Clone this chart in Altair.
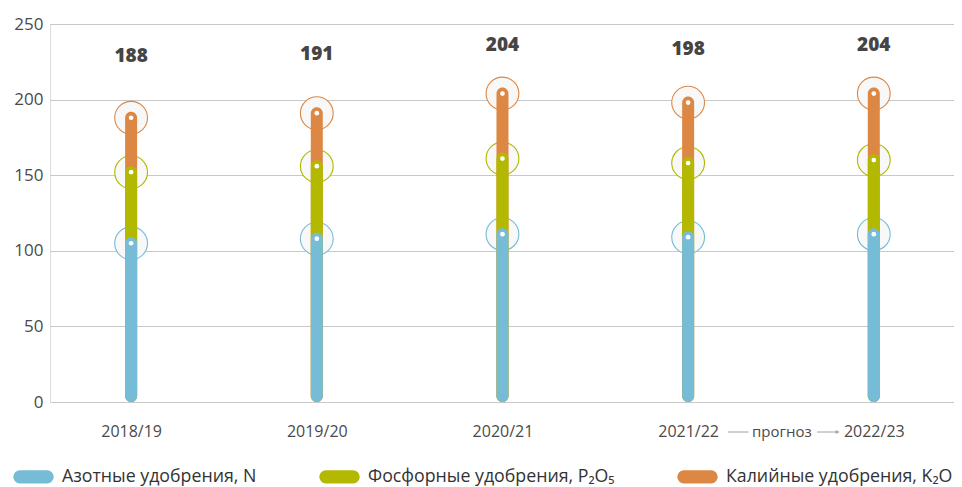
import json
import altair as alt
import pandas as pd

# ---- data -------------------------------------------------------------
years = ["2018/19", "2019/20", "2020/21", "2021/22", "2022/23"]
nitrogen = [105, 108, 111, 109, 111]      # Азотные удобрения, N
phosphorus = [47, 48, 50, 49, 49]         # Фосфорные удобрения, P2O5
potassium = [36, 35, 43, 40, 44]          # Калийные удобрения, K2O
totals = [188, 191, 204, 198, 204]

series_names = ["Азотные удобрения, N", "Фосфорные удобрения, P₂O₅", "Калийные удобрения, K₂O"]
series_colors = ["#77bcd7", "#b2b900", "#dd8744"]

forecast_label = "прогноз"
forecast_text_x = [3.505]
forecast_line_start = [3.215, 3.695]
forecast_line_end = [3.325, 3.80]
forecast_arrow_x = [3.805]

# ---- tables built from the lists -------------------------------------
rows = []
for i, y in enumerate(years):
    cum_n = nitrogen[i]
    cum_np = nitrogen[i] + phosphorus[i]
    cum_npk = cum_np + potassium[i]
    # draw order: orange first, then green, then blue on top
    rows.append({"idx": i, "year": y, "series": series_names[2], "top": cum_npk, "ord": 0})
    rows.append({"idx": i, "year": y, "series": series_names[1], "top": cum_np, "ord": 1})
    rows.append({"idx": i, "year": y, "series": series_names[0], "top": cum_n, "ord": 2})
seg = pd.DataFrame(rows)
tot = pd.DataFrame({"idx": list(range(len(years))), "total": totals})
fc_text = pd.DataFrame({"idx": forecast_text_x, "t": [forecast_label]})
fc_lines = pd.DataFrame({"idx": forecast_line_start, "x2": forecast_line_end})
fc_arrow = pd.DataFrame({"idx": forecast_arrow_x})

label_expr = json.dumps(years) + "[datum.value]"

x_scale = alt.Scale(domain=[-0.41, 4.405], nice=False, zero=False)
y_scale = alt.Scale(domain=[0, 250], nice=False)

x_enc = alt.X(
    "idx:Q", scale=x_scale,
    axis=alt.Axis(values=list(range(len(years))), labelExpr=label_expr, title=None,
                  grid=False, ticks=False, domain=False, labelFontSize=16,
                  labelColor="#4a4a4a", labelPadding=21, labelFont="Open Sans"),
)
y_enc = alt.Y(
    "top:Q", scale=y_scale,
    axis=alt.Axis(values=[0, 50, 100, 150, 200, 250], title=None, grid=True,
                  gridColor="#c8c8c8", gridWidth=1, ticks=False, domain=False,
                  labelFontSize=17, labelColor="#4a4a4a", labelPadding=7,
                  labelFont="Open Sans"),
)
y_plain = alt.Y("top:Q", scale=y_scale, axis=None)

color_scale = alt.Scale(domain=series_names, range=series_colors)

# rounded "pill" legend symbol (unit path, scaled by symbolSize)
pill = ("M-0.7,-0.3 L0.7,-0.3 C0.866,-0.3 1,-0.166 1,0 C1,0.166 0.866,0.3 0.7,0.3 "
        "L-0.7,0.3 C-0.866,0.3 -1,0.166 -1,0 C-1,-0.166 -0.866,-0.3 -0.7,-0.3 Z")

legend = alt.Legend(title=None, orient="none", direction="horizontal",
                    legendX=-37, legendY=432,
                    symbolType=pill, symbolSize=1521,
                    labelFontSize=17.75, labelColor="#333333", labelFont="Open Sans",
                    labelOffset=8, columnPadding=60, labelLimit=400)

circles = alt.Chart(seg).mark_point(
    shape="circle", size=1075, fill="#f8f8f8", fillOpacity=1, opacity=1,
    strokeWidth=1.1, filled=False
).encode(
    x=x_enc, y=y_enc,
    color=alt.Color("series:N", scale=color_scale, legend=legend),
)

bars = alt.Chart(seg).mark_bar(
    size=12, cornerRadius=6, yOffset=-6, opacity=1
).encode(
    x=x_enc, y=y_plain, y2=alt.Y2(datum=0),
    color=alt.Color("series:N", scale=color_scale, legend=legend),
    order=alt.Order("ord:Q"),
)

dots = alt.Chart(seg).mark_circle(size=22, color="white", opacity=1).encode(
    x=x_enc, y=y_plain,
)

# total labels sit on their own, compressed vertical scale
labels = alt.Chart(tot).mark_text(
    font="Open Sans", fontSize=19, fontWeight=800, color="#454545", baseline="middle"
).encode(
    x=x_enc,
    y=alt.Y("total:Q", scale=alt.Scale(domain=[-315, 235], nice=False, zero=False), axis=None),
    text=alt.Text("total:Q"),
)

fc_t = alt.Chart(fc_text).mark_text(
    font="Open Sans", fontSize=15, color="#4a4a4a", baseline="middle"
).encode(x=x_enc, y=alt.value(408), text="t:N")

fc_l = alt.Chart(fc_lines).mark_rule(color="#a0a0a0", strokeWidth=1).encode(
    x=x_enc, x2="x2:Q", y=alt.value(408)
)

fc_a = alt.Chart(fc_arrow).mark_point(
    shape="triangle-right", filled=True, size=18, color="#a0a0a0", opacity=1
).encode(x=x_enc, y=alt.value(408))

chart = alt.layer(circles, bars, dots, labels, fc_l, fc_a, fc_t).resolve_scale(
    y="independent"
).properties(
    width=904, height=378,
    autosize=alt.AutoSizeParams(type="none"),
    padding={"left": 42, "top": 16, "right": 0, "bottom": 85},
).configure_view(stroke=None).configure(font="Open Sans")

chart.save("out.html", embed_options={"renderer": "svg", "actions": False})
